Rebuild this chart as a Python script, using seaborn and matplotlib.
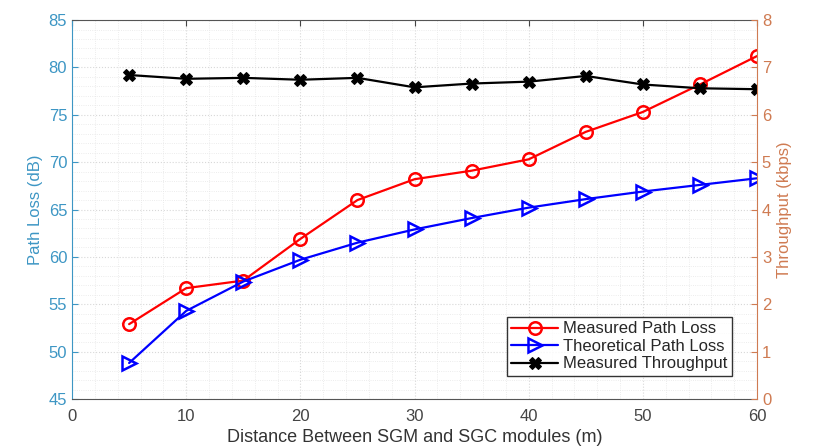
import pandas as pd
import numpy as np
import matplotlib
matplotlib.use("Agg")
import matplotlib.pyplot as plt
import seaborn as sns
from matplotlib.ticker import MultipleLocator

sns.set_style("white")
plt.rcParams['font.family'] = ['Liberation Sans', 'DejaVu Sans']

# data
distance = [5, 10, 15, 20, 25, 30, 35, 40, 45, 50, 55, 60]
measured_pl = [52.9, 56.7, 57.5, 61.9, 66.0, 68.2, 69.1, 70.3, 73.2, 75.3, 78.2, 81.2]
theoretical_pl = [48.8, 54.3, 57.4, 59.7, 61.5, 62.9, 64.1, 65.2, 66.1, 66.9, 67.6, 68.3]
throughput = [6.84, 6.76, 6.78, 6.74, 6.78, 6.58, 6.66, 6.70, 6.82, 6.64, 6.56, 6.54]

df = pd.DataFrame({'d': distance, 'mpl': measured_pl, 'tpl': theoretical_pl, 'thr': throughput})

left_c = '#3d96c4'
right_c = '#cf7b52'

fig = plt.figure(figsize=(8.14, 4.46), dpi=100)
ax = fig.add_axes([0.0885, 0.1054, 0.8415, 0.8496])
ax2 = ax.twinx()

sns.lineplot(data=df, x='d', y='mpl', ax=ax, color='red', marker='o', markersize=9,
             markerfacecolor='none', markeredgecolor='red', markeredgewidth=1.8,
             linewidth=1.6, label='Measured Path Loss', legend=False)
sns.lineplot(data=df, x='d', y='tpl', ax=ax, color='blue', marker='>', markersize=10,
             markerfacecolor='none', markeredgecolor='blue', markeredgewidth=1.8,
             linewidth=1.6, label='Theoretical Path Loss', legend=False)
sns.lineplot(data=df, x='d', y='thr', ax=ax2, color='black', marker='X', markersize=8,
             markerfacecolor='black', markeredgecolor='black',
             linewidth=1.6, label='Measured Throughput', legend=False)

ax.set_xlim(0, 60)
ax.set_ylim(45, 85)
ax2.set_ylim(0, 8)
ax.xaxis.set_major_locator(MultipleLocator(10))
ax.yaxis.set_major_locator(MultipleLocator(5))
ax2.yaxis.set_major_locator(MultipleLocator(1))
ax.xaxis.set_minor_locator(MultipleLocator(2))
ax.yaxis.set_minor_locator(MultipleLocator(1))

ax.grid(True, which='major', color='#d8d8d8', linestyle=':', linewidth=0.8)
ax.grid(True, which='minor', color='#e6e6e6', linestyle=':', linewidth=0.6)

ax.set_xlabel('Distance Between SGM and SGC modules (m)', fontsize=13, color='#333333', labelpad=4)
ax.set_ylabel('Path Loss (dB)', fontsize=12, color=left_c)
ax2.set_ylabel('Throughput (kbps)', fontsize=12, color=right_c)

ax.tick_params(axis='x', colors='#444444', labelsize=12, direction='in', length=4, which='major',
               pad=7, top=True)
ax.tick_params(axis='x', which='minor', length=0)
ax.tick_params(axis='y', colors=left_c, labelsize=12, direction='in', length=4, which='major')
ax.tick_params(axis='y', which='minor', length=0)
ax2.tick_params(axis='y', colors=right_c, labelsize=12, direction='in', length=4)

for s in ['top', 'bottom']:
    ax.spines[s].set_color('#555555')
ax.spines['left'].set_color(left_c)
ax2.spines['left'].set_visible(False)
ax2.spines['right'].set_color(right_c)
ax.spines['right'].set_visible(False)
ax2.spines['top'].set_visible(False)
ax2.spines['bottom'].set_visible(False)

h1, l1 = ax.get_legend_handles_labels()
h2, l2 = ax2.get_legend_handles_labels()
leg = ax2.legend(h1 + h2, l1 + l2, loc='lower right', bbox_to_anchor=(0.975, 0.04),
                 fontsize=12, frameon=True, fancybox=False, edgecolor='black',
                 handlelength=2.8, handletextpad=0.3, borderpad=0.25, labelspacing=0.15)
leg.get_frame().set_linewidth(1.0)

fig.savefig('out.png', dpi=100)
